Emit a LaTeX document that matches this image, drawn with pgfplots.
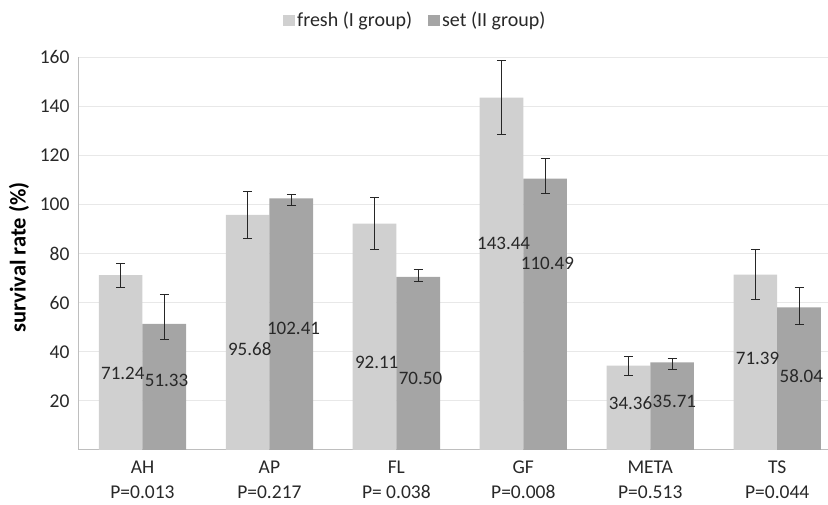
\documentclass[border=0pt]{standalone}
\usepackage{fontspec}
\setmainfont{Carlito}
\usepackage{pgfplots}
\pgfplotsset{compat=1.18}
\usepackage{pgfplotstable}
\definecolor{freshc}{RGB}{208,208,208}
\definecolor{setc}{RGB}{165,165,165}
\definecolor{gridc}{RGB}{232,232,232}
\definecolor{axc}{RGB}{190,190,190}
\definecolor{txt}{RGB}{40,40,40}

\pgfplotstableread{
x fresh fp fm set sp sm
0 71.24 4.8 4.9 51.33 12.0 6.5
1 95.68 9.4 9.6 102.41 1.6 2.8
2 92.11 10.8 10.6 70.50 3.1 2.1
3 143.44 15.2 14.9 110.49 8.1 6.1
4 34.36 3.8 4.2 35.71 1.7 2.9
5 71.39 10.4 10.2 58.04 8.1 7.0
}\data

\newcommand{\vf}{\fontsize{19}{22}\selectfont}

\begin{document}
\begin{tikzpicture}
\begin{axis}[
  at={(0,0)}, anchor=south west,
  scale only axis, width=749pt, height=393pt,
  xmin=-0.5, xmax=5.4, ymin=0, ymax=160,
  ybar, bar width=0.344,
  axis x line*=bottom, axis y line*=left,
  axis line style={axc, line width=1pt},
  ytick={20,40,...,160},
  ymajorgrids, grid style={gridc, line width=0.8pt},
  major tick length=0,
  xtick={0,1,2,3,4,5},
  xticklabels={AH\\P=0.013, AP\\P=0.217, FL\\P= 0.038, GF\\P=0.008, META\\P=0.513, TS\\P=0.044},
  xticklabel style={align=center, font=\fontsize{19.5}{25}\selectfont, text=txt, yshift=-10pt, inner sep=1pt},
  yticklabel style={font=\fontsize{19.5}{22}\selectfont, text=txt, xshift=-6pt},
  /pgf/number format/assume math mode=true,
  ylabel={survival rate (\%)},
  ylabel style={font=\fontsize{22.5}{26}\selectfont\bfseries, text=black, at={(axis description cs:-0.0801,0.49)}, anchor=center},
  legend columns=2,
  legend style={at={(axis description cs:0.449,1.094)}, anchor=center, draw=none, fill=none, font=\fontsize{20}{24}\selectfont, text=txt,
    /tikz/every even column/.append style={column sep=14pt}},
  legend image code/.code={\path[#1, draw=none] (0pt,-5.5pt) rectangle (12pt,5.5pt);},
]
\addplot[ybar, bar shift=-0.172, fill=freshc, draw=none,
  error bars/.cd, y dir=both, y explicit,
  error bar style={black!85, line width=1pt},
  error mark options={black!85, line width=1pt, mark size=4.5pt, rotate=90}]
  table[x=x, y=fresh, y error plus=fp, y error minus=fm] {\data};
\addlegendentry{fresh (I group)}
\addplot[ybar, bar shift=0.172, fill=setc, draw=none,
  error bars/.cd, y dir=both, y explicit,
  error bar style={black!85, line width=1pt},
  error mark options={black!85, line width=1pt, mark size=4.5pt, rotate=90}]
  table[x=x, y=set, y error plus=sp, y error minus=sm] {\data};
\addlegendentry{set (II group)}
\begin{scope}[every node/.style={font=\vf, text=txt, inner sep=0pt}]
\node at (axis cs:-0.155,31.3) {71.24};
\node at (axis cs:0.19,28.2) {51.33};
\node at (axis cs:0.845,41.0) {95.68};
\node at (axis cs:1.19,49.7) {102.41};
\node at (axis cs:1.845,35.5) {92.11};
\node at (axis cs:2.19,29.2) {70.50};
\node at (axis cs:2.845,84.0) {143.44};
\node at (axis cs:3.19,75.8) {110.49};
\node at (axis cs:3.845,19.0) {34.36};
\node at (axis cs:4.19,19.6) {35.71};
\node at (axis cs:4.845,37.2) {71.39};
\node at (axis cs:5.19,30.2) {58.04};
\end{scope}
\end{axis}
\pgfresetboundingbox
\path[use as bounding box] (-79pt,-55pt) rectangle (749pt,450pt);
\end{tikzpicture}
\end{document}
